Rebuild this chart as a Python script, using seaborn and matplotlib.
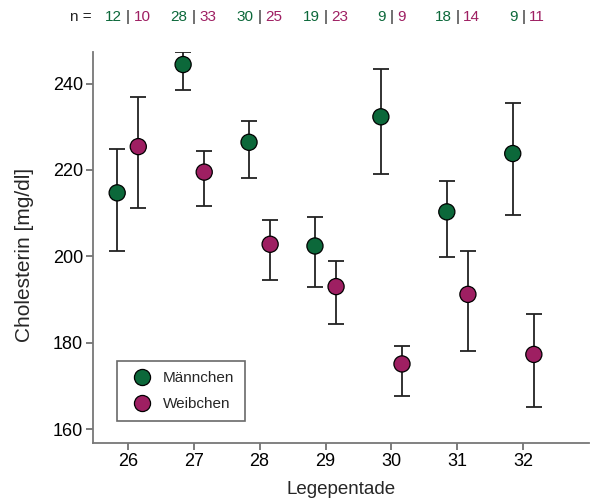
import matplotlib
matplotlib.use("Agg")
import matplotlib.pyplot as plt
import seaborn as sns
import pandas as pd
import numpy as np

pentade = [26, 27, 28, 29, 30, 31, 32]
male_mean = [214.7, 244.4, 226.4, 202.4, 232.3, 210.3, 223.8]
male_low = [201.3, 238.5, 218.1, 192.8, 219.1, 199.9, 209.6]
male_high = [224.9, 247.4, 231.4, 209.2, 243.3, 217.4, 235.5]
female_mean = [225.4, 219.5, 202.8, 193.0, 175.1, 191.2, 177.3]
female_low = [211.3, 211.6, 194.5, 184.3, 167.6, 178.1, 165.2]
female_high = [236.8, 224.5, 208.4, 199.0, 179.2, 201.3, 186.7]
n_male = [12, 28, 30, 19, 9, 18, 9]
n_female = [10, 33, 25, 23, 9, 14, 11]
groups = ["Männchen", "Weibchen"]

GREEN = "#0c683a"
MAGENTA = "#9e1f62"
palette = {"Männchen": GREEN, "Weibchen": MAGENTA}
offset = {"Männchen": -0.16, "Weibchen": 0.16}

sns.set_style("white")
plt.rcParams["font.family"] = ["Liberation Sans", "DejaVu Sans"]

rows = []
for g, m, lo, hi in [("Männchen", male_mean, male_low, male_high),
                     ("Weibchen", female_mean, female_low, female_high)]:
    for p, a, b, c in zip(pentade, m, lo, hi):
        rows.append({"pentade": p, "x": p + offset[g], "mean": a,
                     "low": b, "high": c, "Geschlecht": g})
df = pd.DataFrame(rows)

fig = plt.figure(figsize=(5.91, 5.00), dpi=100)
ax = fig.add_axes([0.157, 0.114, 0.84, 0.782])

ax.errorbar(df["x"], df["mean"],
            yerr=[df["mean"] - df["low"], df["high"] - df["mean"]],
            fmt="none", ecolor="#222222", elinewidth=1.3, capsize=5.5,
            capthick=1.3, zorder=2)
sns.scatterplot(data=df, x="x", y="mean", hue="Geschlecht", hue_order=groups,
                palette=palette, s=135, edgecolor="black", linewidth=0.9,
                ax=ax, zorder=3)

ax.set_xlim(25.47, 33.0)
ax.set_ylim(156.8, 247.3)
ax.set_xticks(pentade)
ax.set_yticks([160, 180, 200, 220, 240])
ax.tick_params(axis="both", direction="out", length=5, width=1.2,
               color="#666666", labelsize=13, labelcolor="black", pad=2)
ax.tick_params(axis="both", bottom=True, left=True)
for s in ["top", "right"]:
    ax.spines[s].set_visible(False)
for s in ["left", "bottom"]:
    ax.spines[s].set_color("#777777")
    ax.spines[s].set_linewidth(1.3)

ax.set_xlabel("Legepentade", fontsize=13.5, labelpad=8)
ax.set_ylabel("Cholesterin [mg/dl]", fontsize=15)
ax.yaxis.set_label_coords(-0.119, 0.481)

leg = ax.legend(loc="lower left", bbox_to_anchor=(0.048, 0.056),
                borderaxespad=0, fontsize=11,
                frameon=True, fancybox=False, edgecolor="#444444",
                handletextpad=0.4, borderpad=0.65, labelspacing=0.8,
                markerscale=1.0)
leg.get_frame().set_linewidth(1.2)
for h in leg.legend_handles:
    h.set_markeredgecolor("black")
    h.set_markersize(11.6)

trans = ax.get_xaxis_transform()
ytxt = 1.09
ax.text(25.45, ytxt, "n =", transform=trans, ha="right", va="center",
        fontsize=11, color="#222222")
for p, a, b in zip(pentade, n_male, n_female):
    ax.text(p, ytxt, "|", transform=trans, ha="center", va="center",
            fontsize=11, color="#222222")
    ax.text(p - 0.09, ytxt, str(a), transform=trans, ha="right",
            va="center", fontsize=11, color=GREEN)
    ax.text(p + 0.09, ytxt, str(b), transform=trans, ha="left",
            va="center", fontsize=11, color=MAGENTA)

fig.savefig("out.png", dpi=100)
